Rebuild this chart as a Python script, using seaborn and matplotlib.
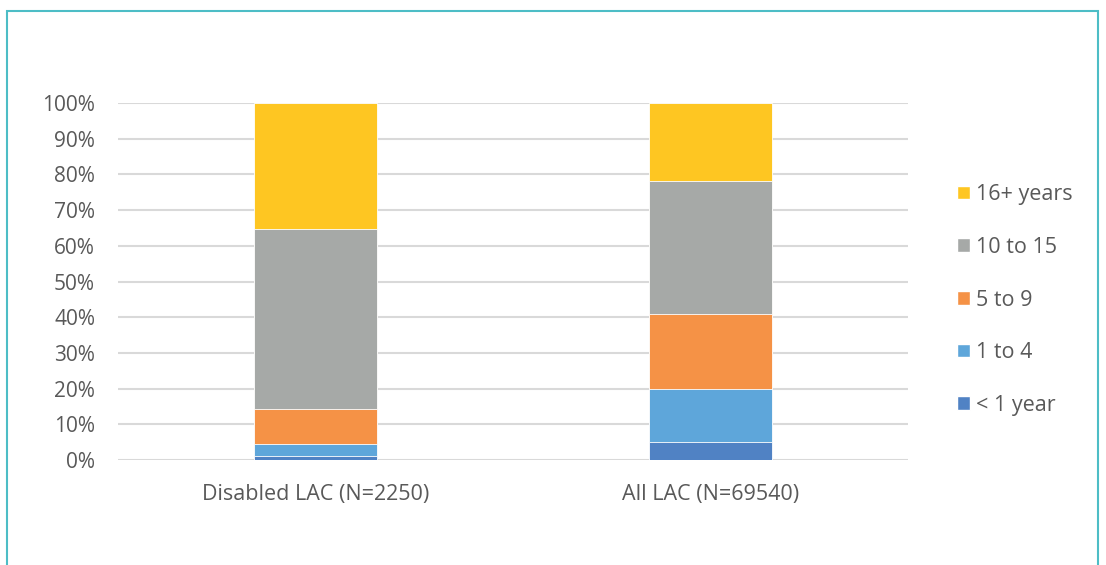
import pandas as pd
import seaborn as sns
import matplotlib.pyplot as plt
from matplotlib.patches import Patch, Rectangle

groups = ['Disabled LAC (N=2250)', 'All LAC (N=69540)']
bands = ['< 1 year', '1 to 4', '5 to 9', '10 to 15', '16+ years']
disabled = [1.2, 3.3, 9.9, 50.2, 35.4]   # % per band
all_lac = [5.1, 14.7, 21.0, 37.4, 21.8]
colors = ['#5082C4', '#5EA6DA', '#F59246', '#A6A9A7', '#FEC622']

sns.set_style('white')
plt.rcParams['font.family'] = ['Open Sans', 'DejaVu Sans']

rows = []
for g, vals in zip(groups, [disabled, all_lac]):
    run = 0
    for b, v in zip(bands, vals):
        run += v
        rows.append({'group': g, 'band': b, 'top': run})
df = pd.DataFrame(rows)

fig = plt.figure(figsize=(11.06, 5.65), dpi=100)
ax = fig.add_axes([118 / 1106, 1 - 460 / 565, 790 / 1106, 357 / 565])

# draw stacked bars top-down so each shorter cumulative bar sits in front
for b, c in reversed(list(zip(bands, colors))):
    sub = df[df['band'] == b]
    sns.barplot(data=sub, x='group', y='top', order=groups, color=c, width=0.31,
                edgecolor='white', linewidth=0.6, saturation=1, ax=ax, zorder=3)

ax.set_ylim(0, 100)
ax.set_yticks(range(0, 101, 10))
ax.set_yticklabels([f'{t}%' for t in range(0, 101, 10)])
ax.yaxis.grid(True, color='#D9D9D9', linewidth=1.5, zorder=0)
ax.set_axisbelow(True)
for s in ax.spines.values():
    s.set_visible(False)
ax.axhline(0, color='#D9D9D9', linewidth=2, zorder=2)
ax.set_xlabel('')
ax.set_ylabel('')
ax.tick_params(axis='both', length=0, colors='#595959')
ax.tick_params(axis='y', pad=16.5, labelsize=15)
ax.tick_params(axis='x', pad=17, labelsize=15.5)

handles = [Patch(facecolor=c, label=b) for b, c in zip(bands, colors)][::-1]
fig.legend(handles=handles, loc='center left', bbox_to_anchor=(938 / 1106, 1 - 300 / 565),
           frameon=False, fontsize=15.5, labelcolor='#595959', labelspacing=1.47,
           handlelength=0.6, handleheight=0.6, handletextpad=0.25)

fig.patches.append(Rectangle((7 / 1106, -0.1), 1091 / 1106, 1.1 - 11 / 565, transform=fig.transFigure,
                             fill=False, edgecolor='#4DBDC6', linewidth=1.5))

plt.savefig('out.png', dpi=100)
